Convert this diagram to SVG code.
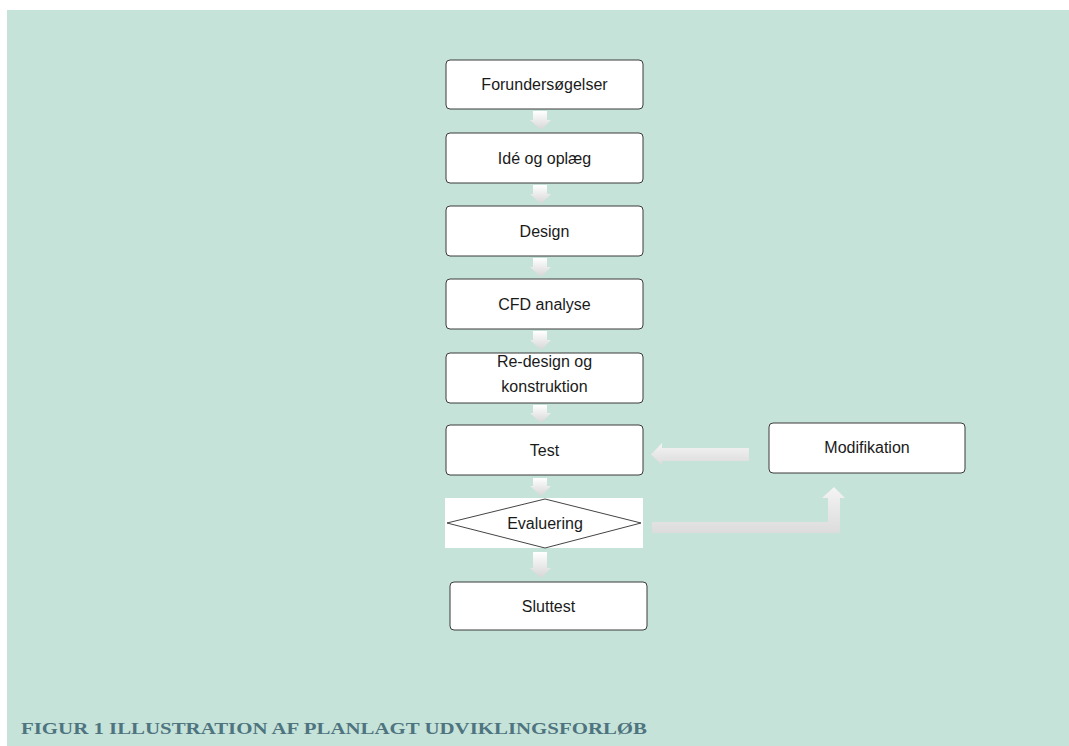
<svg xmlns="http://www.w3.org/2000/svg" width="1069" height="746" viewBox="0 0 1069 746">
<defs>
<linearGradient id="gv" x1="0" y1="0" x2="0" y2="1">
<stop offset="0" stop-color="#ffffff"/>
<stop offset="1" stop-color="#d6d6d6"/>
</linearGradient>
<linearGradient id="gh" x1="0" y1="0" x2="0" y2="1">
<stop offset="0" stop-color="#f4f4f4"/>
<stop offset="1" stop-color="#dcdcdc"/>
</linearGradient>
</defs>
<style>
.box{fill:#ffffff;stroke:#3a3a3a;stroke-width:1}
.t{font-family:"Liberation Sans",Arial,sans-serif;font-size:16px;fill:#1a1a1a;text-anchor:middle}
.cap{font-family:"Liberation Serif","DejaVu Serif",serif;font-weight:bold;font-size:16.5px;fill:#4e7480}
</style>
<rect x="0" y="0" width="1069" height="746" fill="#ffffff"/>
<rect x="7" y="10" width="1062" height="736" fill="#c6e3d9"/>

<g id="connectors">
<path d="M533,111 H547 V120 H551 L541,130 L530,120 H533 Z" fill="url(#gv)"/>
<path d="M533,185 H547 V194 H551 L541,204 L530,194 H533 Z" fill="url(#gv)"/>
<path d="M533,258 H547 V267 H551 L541,277 L530,267 H533 Z" fill="url(#gv)"/>
<path d="M533,331 H547 V340 H551 L541,350 L530,340 H533 Z" fill="url(#gv)"/>
<path d="M533,405 H547 V413 H551 L541,423 L530,413 H533 Z" fill="url(#gv)"/>
<path d="M533,478 H547 V486 H551 L541,496 L530,486 H533 Z" fill="url(#gv)"/>
<path d="M533,552 H547 V568 H551 L541,578 L530,568 H533 Z" fill="url(#gv)"/>
<path d="M749,448 V461 H662 V465 L651,454.5 L662,443 V448 Z" fill="url(#gh)"/>
<path d="M652,522 H828 V498 H822 L834,487 L845,498 H840 V533 H652 Z" fill="url(#gh)"/>
</g>

<g id="n1"><rect class="box" x="446" y="60" width="197" height="49" rx="4"/><text class="t" x="544.5" y="90">Forundersøgelser</text></g>
<g id="n2"><rect class="box" x="446" y="133" width="197" height="50" rx="4"/><text class="t" x="544.5" y="164">Idé og oplæg</text></g>
<g id="n3"><rect class="box" x="446" y="206" width="197" height="50" rx="4"/><text class="t" x="544.5" y="237">Design</text></g>
<g id="n4"><rect class="box" x="446" y="279" width="197" height="50" rx="4"/><text class="t" x="544.5" y="310">CFD analyse</text></g>
<g id="n5"><rect class="box" x="446" y="353" width="197" height="50" rx="4"/><text class="t" x="544.5" y="367">Re-design og</text><text class="t" x="544.5" y="392">konstruktion</text></g>
<g id="n6"><rect class="box" x="446" y="425" width="197" height="50" rx="4"/><text class="t" x="544.5" y="456">Test</text></g>
<g id="n7"><rect x="445" y="498" width="198" height="50" fill="#ffffff"/><polygon points="447,523 545,499 641,523 545,548" fill="#ffffff" stroke="#444" stroke-width="1"/><text class="t" x="545" y="529">Evaluering</text></g>
<g id="n8"><rect class="box" x="450" y="582" width="197" height="48" rx="4"/><text class="t" x="548.5" y="612">Sluttest</text></g>
<g id="n9"><rect class="box" x="769" y="423" width="196" height="50" rx="4"/><text class="t" x="867" y="453">Modifikation</text></g>

<text class="cap" x="21" y="734" textLength="626" lengthAdjust="spacingAndGlyphs">FIGUR 1 ILLUSTRATION AF PLANLAGT UDVIKLINGSFORLØB</text>
</svg>
